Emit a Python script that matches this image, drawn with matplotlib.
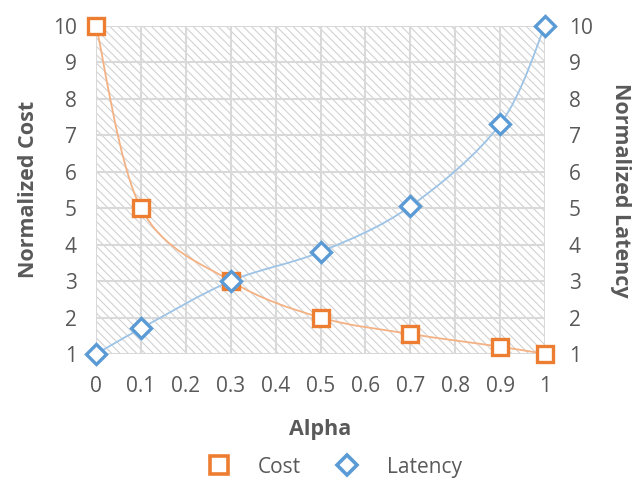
import numpy as np
import matplotlib
matplotlib.use("Agg")
import matplotlib.pyplot as plt
from matplotlib.path import Path
from matplotlib.patches import PathPatch, Rectangle
from matplotlib.lines import Line2D

alpha = [0, 0.1, 0.3, 0.5, 0.7, 0.9, 1.0]
cost = [10, 5, 3, 2, 1.55, 1.2, 1.0]
latency = [1, 1.7, 3, 3.8, 5.05, 7.3, 10]
x_ticks = [0, 0.1, 0.2, 0.3, 0.4, 0.5, 0.6, 0.7, 0.8, 0.9, 1]
y_ticks = [1, 2, 3, 4, 5, 6, 7, 8, 9, 10]

ORANGE = "#ED7D31"
BLUE = "#5B9BD5"
TEXT = "#595959"
GRID = "#d9d9d9"

plt.rcParams['font.family'] = ['Open Sans', 'DejaVu Sans']


def smooth_path(xs, ys):
    # Catmull-Rom style bezier through the points (like Excel's smoothed line)
    pts = np.column_stack([xs, ys]).astype(float)
    n = len(pts)
    verts = [pts[0]]
    codes = [Path.MOVETO]
    for i in range(n - 1):
        p_prev = pts[i - 1] if i > 0 else pts[i]
        p_next = pts[i + 2] if i + 2 < n else pts[i + 1]
        c1 = pts[i] + (pts[i + 1] - p_prev) / 6.0
        c2 = pts[i + 1] - (p_next - pts[i]) / 6.0
        verts += [c1, c2, pts[i + 1]]
        codes += [Path.CURVE4] * 3
    return Path(verts, codes)


fig = plt.figure(figsize=(6.36, 4.8), dpi=100)
ax = fig.add_axes([0.151, 0.2625, 0.706, 0.684])
ax2 = ax.twinx()

ax.set_xlim(0, 1)
ax.set_ylim(1, 10)
ax2.set_ylim(1, 10)

# hatched plot area
plt.rcParams['hatch.linewidth'] = 0.8
ax.add_patch(Rectangle((0, 0), 1, 1, transform=ax.transAxes, facecolor="none",
                       edgecolor="#d2d2d2", hatch="\\\\\\\\", linewidth=0, zorder=0))

ax.set_xticks(x_ticks)
ax.set_xticklabels([f"{v:g}" for v in x_ticks])
ax.set_yticks(y_ticks)
ax2.set_yticks(y_ticks)
ax.grid(True, color=GRID, linewidth=1.5, zorder=1)
ax.set_axisbelow(True)

for a in (ax, ax2):
    for s in a.spines.values():
        s.set_visible(False)
    a.tick_params(length=0, labelsize=15, labelcolor=TEXT)
ax.tick_params(axis='y', pad=14)
ax.tick_params(axis='x', pad=16)
ax2.tick_params(axis='y', pad=17)

ax.add_patch(PathPatch(smooth_path(alpha, cost), facecolor="none",
                       edgecolor="#F4B183", linewidth=1.3, zorder=3))
ax.add_patch(PathPatch(smooth_path(alpha, latency), facecolor="none",
                       edgecolor="#9DC3E6", linewidth=1.3, zorder=3))

ax.plot(alpha, cost, linestyle="none", marker="s", markersize=12,
        markerfacecolor="white", markeredgecolor=ORANGE, markeredgewidth=2.4,
        zorder=5, clip_on=False)
ax.plot(alpha, latency, linestyle="none", marker="D", markersize=10,
        markerfacecolor="white", markeredgecolor=BLUE, markeredgewidth=2.4,
        zorder=5, clip_on=False)

ax.set_xlabel("Alpha", fontsize=15.5, fontweight="bold", color=TEXT, labelpad=16)
ax.set_ylabel("Normalized Cost", fontsize=15.5, fontweight="bold", color=TEXT, labelpad=10)
ax2.set_ylabel("Normalized Latency", fontsize=15.5, fontweight="bold", color=TEXT,
               rotation=270, labelpad=28)

handles = [
    Line2D([], [], linestyle="none", marker="s", markersize=13, markerfacecolor="white",
           markeredgecolor=ORANGE, markeredgewidth=2.6, label="Cost"),
    Line2D([], [], linestyle="none", marker="D", markersize=10.5, markerfacecolor="white",
           markeredgecolor=BLUE, markeredgewidth=2.6, label="Latency"),
]
leg = fig.legend(handles=handles, loc="center", bbox_to_anchor=(0.525, 0.027), ncol=2,
                 frameon=False, fontsize=15, columnspacing=1.6, handletextpad=1.3,
                 handlelength=1.2)
for t in leg.get_texts():
    t.set_color(TEXT)

fig.savefig("out.png", dpi=100)
